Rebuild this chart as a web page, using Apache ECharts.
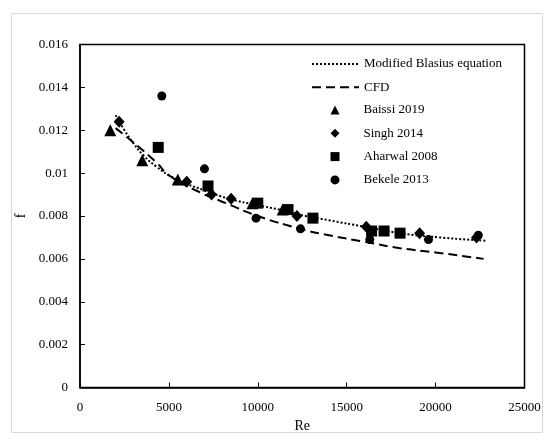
<!DOCTYPE html>
<html>
<head>
<meta charset="utf-8">
<script src="https://cdn.jsdelivr.net/npm/echarts@6/dist/echarts.min.js"></script>
<style>html,body{margin:0;padding:0;background:#fff}#c{width:554px;height:445px}</style>
</head>
<body>
<div id="c"></div>
<script>
// Data
const blasiusRe = [2000, 2500, 3000, 3600, 4300, 5000, 6000, 7000, 8400, 10000, 11200, 12700, 14000, 16000, 18000, 20200, 22800];
const blasiusF  = [0.0127, 0.0120, 0.0114, 0.0108, 0.0103, 0.0099, 0.0095, 0.0092, 0.0088, 0.0085, 0.0083, 0.0080, 0.0078, 0.0075, 0.0072, 0.0070, 0.00685];
const cfdRe = [2000, 2900, 4300, 5000, 6500, 8200, 10000, 12400, 14000, 16000, 18000, 20000, 22700];
const cfdF  = [0.0121, 0.0115, 0.0105, 0.0099, 0.0092, 0.0086, 0.0080, 0.0074, 0.0071, 0.0068, 0.0065, 0.0063, 0.0060];
const baissiRe = [1700, 3500, 5500, 9700, 11400];
const baissiF  = [0.0120, 0.0106, 0.0097, 0.0086, 0.0083];
const singhRe = [2200, 6000, 7400, 8500, 12200, 16100, 19100, 22300];
const singhF  = [0.0124, 0.0096, 0.0090, 0.0088, 0.0080, 0.0075, 0.0072, 0.0070];
const aharwalRe = [4400, 7200, 10000, 11700, 13100, 16400, 17100, 18000];
const aharwalF  = [0.0112, 0.0094, 0.0086, 0.0083, 0.0079, 0.0073, 0.0073, 0.0072];
const bekeleRe = [4600, 7000, 9900, 12400, 16300, 19600, 22400];
const bekeleF  = [0.0136, 0.0102, 0.0079, 0.0074, 0.0069, 0.0069, 0.0071];
const xTicks = {min: 0, max: 25000, interval: 5000};
const yTicks = {min: 0, max: 0.016, interval: 0.002};

const pairs = (xs, ys) => xs.map((x, i) => [x, ys[i]]);
const font = 'Liberation Serif';
const legendText = {fontFamily: font, fontSize: 13, color: '#000', lineHeight: 14};
const markStyle = {color: '#000', opacity: 1};
const chart = echarts.init(document.getElementById('c'), null, {renderer: 'canvas'});
chart.setOption({
  animation: false,
  backgroundColor: '#fff',
  textStyle: {fontFamily: font, color: '#000'},
  graphic: [{type: 'rect', shape: {x: 11.5, y: 13.5, width: 531, height: 419}, style: {fill: 'none', stroke: '#d9d9d9', lineWidth: 1}, z: -1}],
  grid: {left: 80, top: 44.5, right: 29.5, bottom: 57.5, show: true, borderColor: '#000', borderWidth: 1.5},
  legend: [
    {
      orient: 'vertical', left: 306, top: 52, itemWidth: 47, itemHeight: 14, itemGap: 9.3,
      textStyle: legendText,
      data: [
        {name: 'Modified Blasius equation', itemStyle: {opacity: 0}},
        {name: 'CFD', itemStyle: {opacity: 0}}
      ]
    },
    {
      orient: 'vertical', left: 325.5, top: 98, itemWidth: 9, itemHeight: 9, itemGap: 9.3,
      textStyle: Object.assign({padding: [0, 0, 0, 19]}, legendText),
      data: [
        {name: 'Baissi 2019', icon: 'triangle'},
        {name: 'Singh 2014', icon: 'diamond'},
        {name: 'Aharwal 2008', icon: 'rect'},
        {name: 'Bekele 2013', icon: 'circle'}
      ]
    }
  ],
  xAxis: {
    type: 'value', min: xTicks.min, max: xTicks.max, interval: xTicks.interval,
    name: 'Re', nameLocation: 'middle', nameGap: 29,
    nameTextStyle: {fontFamily: font, fontSize: 14, color: '#000'},
    axisLine: {lineStyle: {color: '#000', width: 1.5}},
    axisTick: {inside: true, length: 5, lineStyle: {color: '#000', width: 1}},
    axisLabel: {fontFamily: font, fontSize: 13, color: '#000', margin: 14, formatter: v => String(v)},
    splitLine: {show: false}
  },
  yAxis: {
    type: 'value', min: yTicks.min, max: yTicks.max, interval: yTicks.interval,
    name: 'f', nameLocation: 'middle', nameGap: 36, nameRotate: 90,
    nameTextStyle: {fontFamily: font, fontSize: 14, color: '#000'},
    axisLine: {lineStyle: {color: '#000', width: 1.5}},
    axisTick: {inside: true, length: 5, lineStyle: {color: '#000', width: 1}},
    axisLabel: {fontFamily: font, fontSize: 13, color: '#000', margin: 12},
    splitLine: {show: false}
  },
  series: [
    {name: 'Modified Blasius equation', type: 'line', smooth: true, symbol: 'none', data: pairs(blasiusRe, blasiusF),
     lineStyle: {color: '#000', width: 2, type: [2, 2]}, itemStyle: {color: '#000'}, z: 3},
    {name: 'CFD', type: 'line', smooth: true, symbol: 'none', data: pairs(cfdRe, cfdF),
     lineStyle: {color: '#000', width: 2, type: [9, 5]}, itemStyle: {color: '#000'}, z: 3},
    {name: 'Baissi 2019', type: 'scatter', symbol: 'triangle', symbolSize: 12, data: pairs(baissiRe, baissiF), itemStyle: markStyle, z: 4},
    {name: 'Singh 2014', type: 'scatter', symbol: 'diamond', symbolSize: [11, 12], data: pairs(singhRe, singhF), itemStyle: markStyle, z: 4},
    {name: 'Aharwal 2008', type: 'scatter', symbol: 'rect', symbolSize: 11, data: pairs(aharwalRe, aharwalF), itemStyle: markStyle, z: 4},
    {name: 'Bekele 2013', type: 'scatter', symbol: 'circle', symbolSize: 9, data: pairs(bekeleRe, bekeleF), itemStyle: markStyle, z: 4}
  ]
});
</script>
</body>
</html>
